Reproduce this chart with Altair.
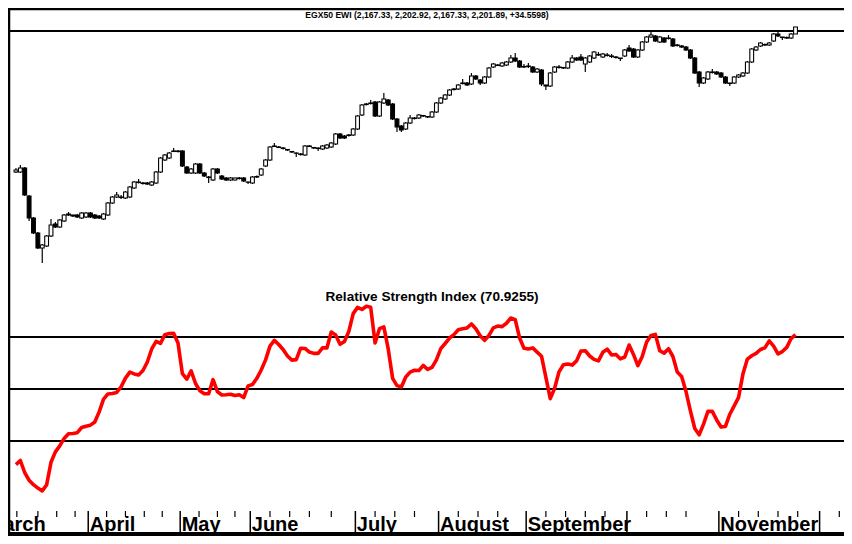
import altair as alt
import pandas as pd

# ---------------- data ----------------
opens = [1477, 1477, 1497, 1357, 1247, 1172, 1097, 1107, 1157, 1217,
         1202, 1232, 1262, 1262, 1262, 1247, 1252, 1272, 1262, 1257,
         1242, 1262, 1322, 1352, 1352, 1347, 1352, 1397, 1427, 1422,
         1422, 1412, 1422, 1477, 1537, 1547, 1579.5, 1582, 1582, 1502,
         1472, 1472, 1517, 1472, 1452, 1437, 1492, 1457, 1447, 1437,
         1437, 1447, 1447, 1427, 1422, 1452, 1462, 1507, 1537, 1604.5,
         1602, 1597, 1589.5, 1579.5, 1572, 1567, 1562, 1607, 1599.5, 1597,
         1592, 1597, 1602, 1617, 1667, 1657, 1659.5, 1662, 1692, 1762,
         1814.5, 1819.5, 1827, 1757, 1822, 1837, 1817, 1742, 1707, 1692,
         1722, 1747, 1747, 1759.5, 1754.5, 1752, 1777, 1822, 1842, 1862,
         1889.5, 1892, 1919.5, 1922, 1917, 1957, 1937, 1922, 1952, 2002,
         2012, 2007, 2012, 2027, 2047, 2032, 2004.5, 2004.5, 2002, 1977,
         1987, 1912, 1907, 1977, 2002, 1999.5, 1997, 2027, 2047, 2052,
         2017, 2027, 2047, 2064.5, 2052, 2062, 2057, 2052, 2047, 2057,
         2097, 2092, 2052, 2087, 2127, 2152, 2157, 2127, 2147, 2147,
         2142, 2112, 2107, 2102, 2087, 2047, 1977, 1922, 1942, 1977,
         1977, 1972, 1952, 1922, 1922, 1952, 1957, 1972, 2027, 2087,
         2107, 2112, 2112, 2132, 2167, 2152, 2147, 2147, 2167.33]
highs = [1497, 1512, 1502, 1362, 1252, 1177, 1117, 1162, 1242, 1227,
         1242, 1267, 1277, 1262, 1267, 1277, 1277, 1277, 1267, 1262,
         1272, 1327, 1357, 1377, 1362, 1382, 1407, 1432, 1442, 1427,
         1427, 1432, 1482, 1552, 1567, 1577, 1597, 1587, 1587, 1507,
         1497, 1522, 1522, 1477, 1457, 1497, 1497, 1462, 1452, 1452,
         1449.5, 1452, 1452, 1428, 1457, 1459.5, 1497, 1542, 1607, 1622,
         1607, 1602, 1592, 1582, 1574, 1572, 1612, 1612, 1602, 1599.5,
         1612, 1617, 1627, 1672, 1672, 1662, 1667, 1697, 1762, 1817,
         1822, 1837, 1832, 1832, 1872, 1842, 1822, 1747, 1712, 1727,
         1762, 1752, 1767, 1762, 1757, 1782, 1827, 1852, 1867, 1892,
         1897, 1917, 1942, 1927, 1972, 1962, 1942, 1957, 2002, 2022,
         2017, 2027, 2032, 2062, 2072, 2037, 2017, 2022, 2007, 1997,
         1992, 1912, 1977, 2007, 2012, 2002, 2032, 2062, 2052, 2067,
         2052, 2062, 2082, 2077, 2072, 2072, 2067, 2057, 2047, 2092,
         2112, 2097, 2092, 2132, 2157, 2182, 2162, 2157, 2152, 2162,
         2147, 2117, 2112, 2107, 2092, 2052, 1982, 1952, 1982, 1992,
         1982, 1977, 1957, 1922, 1957, 1967, 1977, 2032, 2097, 2107,
         2127, 2119.5, 2127, 2172, 2177, 2152, 2154.5, 2172, 2202.92]
lows = [1472, 1472, 1357, 1232, 1167, 1092, 1022, 1102, 1152, 1197,
        1197, 1227, 1257, 1252, 1247, 1242, 1247, 1247, 1242, 1242,
        1237, 1257, 1317, 1347, 1342, 1342, 1347, 1392, 1419.5, 1414.5,
        1412, 1407, 1417, 1472, 1532, 1542, 1577, 1574.5, 1502, 1467,
        1467, 1467, 1467, 1452, 1422, 1432, 1467, 1437, 1432, 1432,
        1434.5, 1439.5, 1427, 1417, 1417, 1447, 1457, 1502, 1532, 1602,
        1597, 1589.5, 1582, 1572, 1552, 1559.5, 1557, 1602, 1592, 1582,
        1587, 1592, 1597, 1612, 1642, 1642, 1654.5, 1657, 1687, 1757,
        1809.5, 1814.5, 1752, 1752, 1817, 1807, 1737, 1677, 1677, 1687,
        1717, 1739.5, 1742, 1752, 1747, 1747, 1772, 1817, 1837, 1857,
        1884.5, 1887, 1914.5, 1907, 1912, 1937, 1912, 1917, 1947, 1997,
        2007, 2002, 2007, 2022, 2027, 1997, 1997, 1997, 1972, 1972,
        1907, 1887, 1902, 1972, 1994.5, 1992, 1992, 2022, 2032, 2032,
        1977, 2022, 2042, 2057, 2047, 2054.5, 2047, 2044.5, 2032, 2052,
        2077, 2047, 2047, 2082, 2122, 2147, 2127, 2122, 2122, 2139.5,
        2102, 2104.5, 2097, 2082, 2042, 1967, 1902, 1917, 1937, 1969.5,
        1962, 1947, 1917, 1907, 1917, 1947, 1952, 1967, 2022, 2082,
        2102, 2107, 2107, 2127, 2152, 2137, 2142, 2142, 2167.33]
closes = [1487, 1497, 1362, 1247, 1172, 1097, 1112, 1157, 1212, 1202,
          1237, 1262, 1267, 1257, 1252, 1272, 1272, 1252, 1247, 1247,
          1267, 1322, 1352, 1362, 1349.5, 1377, 1402, 1427, 1424.5, 1419.5,
          1417, 1427, 1477, 1547, 1562, 1572, 1582, 1579.5, 1507, 1472,
          1492, 1517, 1472, 1457, 1449.5, 1492, 1472, 1442, 1437, 1447,
          1447, 1444.5, 1432, 1426, 1452, 1454.5, 1492, 1537, 1602, 1607,
          1599.5, 1594.5, 1587, 1577, 1571, 1564.5, 1607, 1604.5, 1597, 1594.5,
          1607, 1612, 1622, 1667, 1647, 1647, 1662, 1692, 1757, 1812,
          1817, 1822, 1757, 1827, 1842, 1812, 1742, 1702, 1687, 1722,
          1747, 1744.5, 1762, 1757, 1752, 1777, 1822, 1847, 1862, 1887,
          1892, 1912, 1922, 1912, 1957, 1942, 1922, 1952, 1997, 2017,
          2009.5, 2022, 2027, 2047, 2032, 2002, 2002, 2007, 1977, 1992,
          1917, 1907, 1972, 2002, 1999.5, 1997, 2027, 2047, 2037, 2037,
          2047, 2057, 2077, 2062, 2067, 2059.5, 2054.5, 2049.5, 2044.5, 2087,
          2082, 2052, 2087, 2127, 2152, 2162, 2132, 2152, 2127, 2144.5,
          2107, 2109.5, 2102, 2087, 2047, 1972, 1922, 1947, 1977, 1974.5,
          1967, 1952, 1922, 1919.5, 1952, 1962, 1972, 2027, 2092, 2102,
          2122, 2114.5, 2122, 2167, 2157, 2149.5, 2149.5, 2167, 2201.89]
rsi_values = [20.9, 22.5, 17.8, 14.9, 13.2, 11.9, 10.8, 13.1, 21.8, 25.8,
              28.1, 31.0, 32.8, 32.9, 33.2, 35.2, 35.7, 36.1, 37.3, 41.2,
              46.1, 48.1, 48.3, 48.7, 50.8, 54.2, 56.5, 55.8, 55.4, 57.1,
              60.4, 65.4, 68.3, 67.5, 70.9, 71.3, 71.4, 67.7, 55.9, 53.8,
              57.0, 52.1, 49.3, 48.2, 48.2, 53.6, 49.0, 47.7, 47.8, 48.0,
              47.5, 47.8, 46.7, 51.2, 51.7, 54.1, 57.3, 61.2, 66.5, 68.7,
              67.1, 65.2, 62.7, 61.1, 61.3, 65.7, 65.6, 64.2, 63.7, 63.7,
              65.8, 65.8, 71.9, 70.8, 67.2, 68.3, 72.1, 79.0, 81.4, 80.6,
              81.8, 81.4, 67.7, 73.2, 73.9, 65.4, 54.1, 51.3, 50.8, 54.6,
              56.5, 57.2, 57.1, 59.1, 57.5, 58.3, 61.2, 65.5, 67.5, 69.6,
              70.9, 72.8, 73.2, 73.5, 75.0, 73.2, 70.5, 68.7, 70.6, 73.5,
              74.2, 74.0, 75.3, 77.3, 76.7, 69.6, 65.7, 65.4, 65.8, 64.2,
              62.6, 54.5, 46.3, 50.3, 56.6, 59.3, 59.6, 59.2, 60.8, 64.6,
              64.7, 62.7, 61.4, 60.8, 64.1, 65.3, 63.1, 63.3, 61.6, 62.3,
              66.9, 63.3, 59.0, 62.5, 68.1, 70.6, 71.0, 64.7, 63.8, 65.5,
              62.5, 56.5, 54.8, 49.0, 41.6, 34.8, 32.4, 36.5, 41.4, 41.4,
              38.1, 35.4, 35.6, 40.3, 43.5, 46.8, 55.8, 61.5, 62.8, 63.7,
              65.2, 65.8, 68.5, 66.5, 63.5, 64.4, 66.0, 69.4, 70.9255]
resistance_level = [2182]
rsi_levels = [70, 50, 30]
month_names = ["March", "April", "May", "June", "July", "August",
               "September", "", "November", ""]
month_bounds = [-7, 16.5, 37.5, 53.5, 77.5, 96.5, 116.5, 139.5, 160.5, 183.5]
week_ticks = [0.2, 5, 9.3, 13.5, 20.7, 25, 29.3, 33.4, 41.8, 46, 50,
              58, 62.5, 67, 72, 82, 86.5, 91, 101, 105.5, 110, 121, 125.5,
              130, 134.5, 144, 148.5, 153, 165, 169.5, 174, 178.5, 188]
price_title = "EGX50 EWI (2,167.33, 2,202.92, 2,167.33, 2,201.89, +34.5598)"
rsi_title = "Relative Strength Index (70.9255)"

# ---------------- chart ----------------
n = len(closes)
df = pd.DataFrame({"i": list(range(n)), "open": opens, "high": highs,
                   "low": lows, "close": closes, "rsi": rsi_values})
df["dir"] = ["up" if c > o else "down" for o, c in zip(opens, closes)]

W, H = 836, 528
FONT = "Liberation Sans"
xs = alt.Scale(domain=[-0.677, 187.93], nice=False, zero=False)
ps = alt.Scale(domain=[-343, 2297], nice=False, zero=False)
rs = alt.Scale(domain=[-6.54, 196.54], nice=False, zero=False)

base = alt.Chart(df)
X = alt.X("i:Q", scale=xs, axis=None)

res = alt.Chart(pd.DataFrame({"level": resistance_level})).mark_rule(
    color="black", strokeWidth=2).encode(y=alt.Y("level:Q", scale=ps, axis=None))
wicks = base.mark_rule(color="black", strokeWidth=1.2).encode(
    x=X, y=alt.Y("low:Q", scale=ps, axis=None), y2="high:Q")
bodies = base.mark_bar(size=3.8, stroke="black", strokeWidth=1.1).encode(
    x=X, y=alt.Y("open:Q", scale=ps, axis=None), y2="close:Q",
    fill=alt.Fill("dir:N", scale=alt.Scale(domain=["up", "down"], range=["white", "black"]), legend=None))
price = alt.layer(res, wicks, bodies)

lv = alt.Chart(pd.DataFrame({"level": rsi_levels})).mark_rule(
    color="black", strokeWidth=2).encode(y=alt.Y("level:Q", scale=rs, axis=None))
rline = base.mark_line(color="#ff0000", strokeWidth=3.6, strokeJoin="round").encode(
    x=X, y=alt.Y("rsi:Q", scale=rs, axis=None))
rsi_panel = alt.layer(lv, rline)

one = alt.Chart(pd.DataFrame({"a": [0]}))
left_border = one.mark_rule(color="black", strokeWidth=2.5).encode(
    x=alt.value(1), y=alt.value(0), y2=alt.value(H))
top_border = one.mark_rule(color="black", strokeWidth=2.5).encode(
    x=alt.value(0), x2=alt.value(W), y=alt.value(1))
bottom_band = one.mark_rect(color="black").encode(
    x=alt.value(0), x2=alt.value(W), y=alt.value(524), y2=alt.value(H))
t1 = alt.Chart(pd.DataFrame({"t": [price_title]})).mark_text(
    font=FONT, fontSize=8.6, fontWeight="bold", color="black", baseline="middle").encode(
    x=alt.value(419), y=alt.value(6.5), text="t:N")
t2 = alt.Chart(pd.DataFrame({"t": [rsi_title]})).mark_text(
    font=FONT, fontSize=13.6, fontWeight="bold", color="black", baseline="middle").encode(
    x=alt.value(424), y=alt.value(289), text="t:N")

mb = pd.DataFrame({"b": month_bounds, "name": month_names})
mticks = alt.Chart(mb).mark_rule(color="black", strokeWidth=1.5, clip=True).encode(
    x=alt.X("b:Q", scale=xs, axis=None), y=alt.value(503), y2=alt.value(524))
wticks = alt.Chart(pd.DataFrame({"w": week_ticks})).mark_rule(
    color="black", strokeWidth=1.2, clip=True).encode(
    x=alt.X("w:Q", scale=xs, axis=None), y=alt.value(503), y2=alt.value(509))
mlabels = alt.Chart(mb).mark_text(
    align="left", baseline="alphabetic", dx=1.5, font=FONT, fontSize=20,
    fontWeight="bold", color="black", clip=True).encode(
    x=alt.X("b:Q", scale=xs, axis=None), y=alt.value(522.5), text="name:N")

chart = alt.layer(
    price, rsi_panel, left_border, top_border, bottom_band, t1, t2,
    mticks, wticks, mlabels
).resolve_scale(y="independent").properties(
    width=W, height=H, padding=0,
    autosize=alt.AutoSizeParams(type="none")
).configure_view(stroke=None)

chart.save("out.html", embed_options={"renderer": "svg", "actions": False})
